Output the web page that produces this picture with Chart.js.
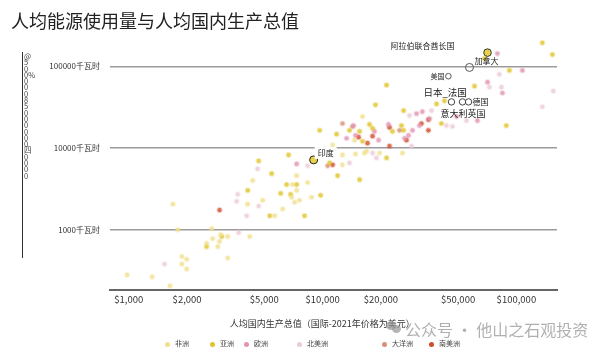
<!DOCTYPE html>
<html>
<head>
<meta charset="utf-8">
<script src="https://cdn.jsdelivr.net/npm/chart.js@4.4.1/dist/chart.umd.min.js"></script>
<style>
  body { margin: 0; background: #fff; font-family: "Noto Sans CJK SC", sans-serif; }
  #wrap { position: relative; width: 605px; height: 353px; overflow: hidden; }
  #title { position: absolute; left: 11px; top: 7px; font-size: 18px; color: #222; white-space: nowrap; }
  #yline { position: absolute; left: 22px; top: 52px; height: 206px; border-left: 1.5px solid #333; }
  #ystack { position: absolute; left: 24px; top: 53px; width: 6px; font-size: 7.5px; line-height: 6.3px; color: #444; word-break: break-all; }
  #legend { position: absolute; left: 0; top: 337px; width: 605px; height: 12px; font-size: 7px; color: #444; }
  .lg { position: absolute; top: 0; white-space: nowrap; line-height: 12px; }
  .lg i { display: inline-block; width: 5px; height: 5px; border-radius: 50%; margin-right: 5px; vertical-align: middle; }
  #wm { position: absolute; left: 405px; top: 317px; font-size: 16px; color: rgba(150,150,150,0.75); white-space: nowrap; }
  #wmicon { position: absolute; left: 386px; top: 321px; width: 16px; height: 12px; }
  #wmicon b { position: absolute; border-radius: 50%; background: rgba(150,150,150,0.7); }
</style>
</head>
<body>
<div id="wrap">
  <canvas id="energyChart" width="605" height="353"></canvas>
  <div id="title">人均能源使用量与人均国内生产总值</div>
  <div id="yline"></div>
  <div id="ystack">@500%00085000000四0000</div>
  <div id="legend"></div>
  <div id="wmicon"><b style="left:0;top:0;width:10px;height:9px"></b><b style="left:6px;top:4px;width:9px;height:8px"></b></div>
  <div id="wm">公众号 · 他山之石观投资</div>
</div>
<script>
const continents = ['非洲', '亚洲', '欧洲', '北美洲', '大洋洲', '南美洲'];
const continentColors = ['#f1e08c', '#e0c428', '#e394b4', '#eccbd9', '#d98f7a', '#cf4b2a'];

// [人均GDP(美元), 人均能源(千瓦时)]
const africaPts = [
  [980, 280], [1320, 265], [1630, 205], [1690, 2060], [1790, 1000], [1880, 470], [1990, 435],
  [1880, 380], [1990, 330], [2680, 1030], [2940, 720], [3240, 825], [2880, 620], [3240, 450],
  [2710, 780], [2520, 680], [4210, 825], [4910, 2300], [5660, 1480], [6220, 1790], [6920, 2500],
  [7170, 2170], [4360, 4000], [4100, 2060], [7350, 4600], [7000, 3580], [7350, 3030], [7600, 2300],
  [8770, 2500], [8370, 3790], [12670, 6240], [12670, 8240], [14790, 8470], [16450, 8700],
  [19680, 8700], [25830, 8700], [16080, 24300], [2980, 870], [11270, 10900], [16860, 9200],
  [14620, 12500]
];
const asiaPts = [
  [2520, 620], [3020, 825], [4110, 3030], [5340, 1480], [6080, 2790], [6520, 3580], [7350, 3580],
  [8070, 1480], [4680, 6970], [5460, 4860], [6680, 8240], [6840, 2720], [9770, 2640], [9660, 16500],
  [11810, 14800], [13770, 16500], [16080, 12100], [17460, 19500], [22950, 16000], [25530, 18900],
  [26180, 16500], [21380, 59000], [18750, 33900], [26180, 28700], [38730, 34800], [41020, 20000],
  [10870, 6590], [11950, 4600], [15520, 4110], [21380, 7590], [42560, 37900], [60800, 57400],
  [88720, 18900], [92040, 89500], [68390, 124800], [136100, 194500], [153400, 139700],
  [15520, 16000], [18110, 17400]
];
const europePts = [
  [14450, 18900], [14790, 14300], [18530, 16000], [19450, 12500], [21880, 19500], [29110, 16500],
  [30550, 26400], [32740, 27900], [49090, 24300], [62950, 21700], [84720, 47300], [79800, 143600],
  [107400, 89500], [70960, 64200], [31620, 18900], [7350, 6410], [27750, 14300], [35650, 23000],
  [13300, 13200], [26490, 13200]
];
const northAmericaPts = [
  [3600, 2230], [3650, 2720], [4680, 1950], [4060, 1480], [3690, 920], [1530, 380], [4620, 5580],
  [8370, 6070], [13770, 6590], [18110, 8700], [18970, 7590], [28770, 10600], [28060, 25000],
  [43550, 18900], [55210, 21700], [81660, 80100], [72610, 55800], [136100, 32100], [155000, 50000],
  [46770, 18400], [36480, 28700], [83750, 55800]
];
const oceaniaPts = [
  [10620, 6070], [14280, 18400], [12670, 20000], [24950, 16500]
];
const southAmericaPts = [
  [2940, 1740], [17060, 11500], [18110, 14000], [22150, 17900], [22150, 10600], [27100, 12500],
  [32360, 20000], [35160, 22300], [35160, 16500], [11270, 6240], [15340, 13600]
];
const continentPts = [africaPts, asiaPts, europePts, northAmericaPts, oceaniaPts, southAmericaPts];

// highlighted countries
const markNames = ['阿拉伯联合酋长国', '加拿大', '美国', '日本', '法国', '德国', '印度'];
const markGdp = [70960, 57280, 44570, 46240, 52720, 56640, 8990];
const markEnergy = [147600, 97250, 75900, 36800, 36800, 36800, 7170];

const xTicks = [1000, 2000, 5000, 10000, 20000, 50000, 100000];
const yTicks = [1000, 10000, 100000];

const FONT = '"Noto Sans CJK SC", "Noto Sans", sans-serif';

// label placement next to the highlighted points
const countryLabels = [
  { i: 0, text: '阿拉伯联合酋长国', dx: -33, dy: -7, align: 'right', size: 8 },
  { i: 1, text: '加拿大', dx: 5, dy: -6, align: 'left', size: 8 },
  { i: 2, text: '美国', dx: -4, dy: 0, align: 'right', size: 7 },
  { i: 3, text: '日本_法国', dx: -28, dy: -10, align: 'left', size: 9.5 },
  { i: 5, text: '德国', dx: 4, dy: 0, align: 'left', size: 8 },
  { i: 3, text: '意大利英国', dx: -11, dy: 12, align: 'left', size: 9 },
  { i: 6, text: '印度', dx: 4, dy: -7, align: 'left', size: 8, bg: true }
];

function hexToRgba(hex, a) {
  const n = parseInt(hex.slice(1), 16);
  return `rgba(${n >> 16}, ${(n >> 8) & 255}, ${n & 255}, ${a})`;
}

const countryLabelPlugin = {
  id: 'countryLabels',
  afterDatasetsDraw(chart) {
    const { ctx, scales: { x, y } } = chart;
    ctx.save();
    countryLabels.forEach(l => {
      const px = x.getPixelForValue(markGdp[l.i]) + l.dx;
      const py = y.getPixelForValue(markEnergy[l.i]) + l.dy;
      ctx.font = `${l.size}px ${FONT}`;
      ctx.textAlign = l.align;
      ctx.textBaseline = 'middle';
      if (l.bg) {
        const w = ctx.measureText(l.text).width;
        ctx.fillStyle = '#fff';
        ctx.fillRect(px - 3, py - l.size / 2 - 2, w + 6, l.size + 4);
      }
      ctx.fillStyle = '#222';
      ctx.fillText(l.text, px, py);
    });
    ctx.restore();
  }
};

const datasets = continents.map((name, i) => ({
  label: name,
  data: continentPts[i].map(p => ({ x: p[0], y: p[1] })),
  pointRadius: 2.1,
  pointBackgroundColor: hexToRgba(continentColors[i], 0.78),
  pointBorderColor: hexToRgba(continentColors[i], 0.25),
  pointBorderWidth: 2
}));

datasets.push({
  label: '标注',
  data: markGdp.map((g, i) => ({ x: g, y: markEnergy[i] })),
  pointRadius: [3.8, 4, 2.8, 3.2, 3.2, 3.2, 4],
  pointBackgroundColor: ['#e6d24a', 'rgba(0,0,0,0)', 'rgba(255,255,255,0.6)', 'rgba(255,255,255,0.6)', 'rgba(255,255,255,0.6)', 'rgba(255,255,255,0.6)', '#e6d24a'],
  pointBorderColor: ['#333', '#555', '#555', '#444', '#444', '#444', '#222'],
  pointBorderWidth: 1
});

new Chart(document.getElementById('energyChart'), {
  type: 'scatter',
  data: { datasets },
  options: {
    responsive: false,
    devicePixelRatio: 1,
    animation: false,
    layout: { padding: { left: 0, right: 48, top: 38, bottom: 24 } },
    plugins: {
      legend: { display: false },
      tooltip: { enabled: false }
    },
    scales: {
      x: {
        type: 'logarithmic',
        min: 800,
        max: 162000,
        afterBuildTicks: s => { s.ticks = xTicks.map(v => ({ value: v })); },
        ticks: {
          padding: 4,
          color: '#333',
          font: { size: 9.5, family: FONT },
          maxRotation: 0,
          autoSkip: false,
          callback: v => '$' + Number(v).toLocaleString('en-US')
        },
        grid: { display: false, drawTicks: false },
        border: { display: true, color: '#666', width: 2 },
        title: {
          display: true,
          text: '人均国内生产总值（国际-2021年价格为美元）\u3000\u3000\u3000',
          color: '#333',
          font: { size: 9, family: FONT },
          padding: { top: 9, bottom: 0 }
        }
      },
      y: {
        type: 'logarithmic',
        min: 184,
        max: 223000,
        afterBuildTicks: s => { s.ticks = yTicks.map(v => ({ value: v })); },
        afterFit: s => { s.width = 110; },
        ticks: {
          padding: 10,
          color: '#333',
          font: { size: 8, family: FONT },
          callback: v => v + '千瓦时'
        },
        grid: { color: '#9b9b9b', lineWidth: 1.5, drawTicks: false },
        border: { display: false }
      }
    }
  },
  plugins: [countryLabelPlugin]
});

// legend, built from the same names and colours
const legendX = [165, 210, 244, 297, 382, 429];
const legendEl = document.getElementById('legend');
continents.forEach((name, i) => {
  const item = document.createElement('span');
  item.className = 'lg';
  item.style.left = legendX[i] + 'px';
  item.innerHTML = `<i style="background:${continentColors[i]}"></i>${name}`;
  legendEl.appendChild(item);
});
</script>
</body>
</html>
